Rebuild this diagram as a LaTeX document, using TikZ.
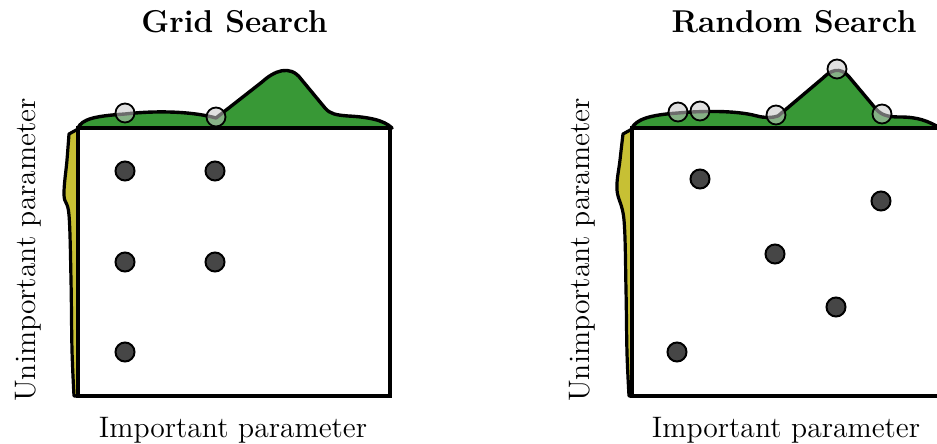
\documentclass[tikz,border=0pt]{standalone}
\usepackage{tikz}
\definecolor{hill}{RGB}{56,152,54}
\definecolor{stripc}{RGB}{199,192,52}
\definecolor{dotc}{RGB}{70,70,70}
\tikzset{
  sample/.style={circle, draw=black, line width=1pt, fill=dotc, inner sep=0pt, minimum size=9.5pt},
  probe/.style={circle, draw=black, line width=0.9pt, fill=gray!45, fill opacity=0.55, inner sep=0pt, minimum size=9.5pt},
  hillshape/.style={fill=hill, draw=black, line width=1.7pt, line join=round},
  stripshape/.style={fill=stripc, draw=black, line width=1.6pt, line join=round},
  boxshape/.style={fill=white, draw=black, line width=2pt},
  lbl/.style={font=\fontsize{14.8}{17}\selectfont, inner sep=0pt},
  ttl/.style={font=\fontsize{15.8}{18}\selectfont\bfseries, inner sep=0pt},
}
\begin{document}
\begin{tikzpicture}[x=0.5pt,y=-0.5pt]
\useasboundingbox (0,0) rectangle (937,444);
\clip (0,0) rectangle (937,444);
% ---------- left panel ----------
\draw[hillshape] (78,128) .. controls (82,119) and (95,116) .. (125,114)
  .. controls (160,110) and (195,112) .. (216,118)
  -- (262,82) .. controls (274,71) and (290,64) .. (301,79)
  -- (325,108) .. controls (330,114) and (336,115) .. (348,116)
  .. controls (368,117) and (384,120) .. (392,128) -- cycle;
\draw[boxshape] (78,128) rectangle (390,396);
\draw[stripshape] (78,129) -- plot[smooth, tension=0.6] coordinates {(69,134) (67,160) (64,195) (69,215) (71,280) (72,350) (74,396)} -- (78,396) -- cycle;
\draw[line width=2pt] (78,128) -- (78,396);
\node[probe] (lp1) at (125,113) {};
\node[probe] (lp2) at (216,117) {};
\node[sample] (ls1) at (125,171) {};
\node[sample] (ls2) at (215,171) {};
\node[sample] (ls3) at (125,262) {};
\node[sample] (ls4) at (215,262) {};
\node[sample] (ls5) at (125,352) {};
\node[ttl, anchor=base] (lt) at (234.5,33) {Grid Search};
\node[lbl, anchor=base] (lx) at (233,437) {Important parameter};
\node[lbl, anchor=base, rotate=90] (ly) at (35,250) {Unimportant parameter};
% ---------- right panel ----------
\draw[hillshape] (632,128) .. controls (636,120) and (648,115) .. (678,113)
  .. controls (700,111) and (735,110) .. (757,116)
  .. controls (765,118) and (772,118) .. (778,116)
  -- (823,78) .. controls (830,71) and (840,65) .. (850,78)
  -- (876,109) .. controls (882,116) and (890,117) .. (900,117)
  .. controls (918,117) and (928,121) .. (940,128) -- (950,128) -- cycle;
\draw[boxshape] (632,128) rectangle (960,396);
\draw[stripshape] (632,129) -- plot[smooth, tension=0.6] coordinates {(623,134) (620,160) (617,190) (624,220) (626,290) (627,353) (629,396)} -- (632,396) -- cycle;
\draw[line width=2pt] (632,128) -- (632,396);
\node[probe] (rp1) at (678,112) {};
\node[probe] (rp2) at (700,111) {};
\node[probe] (rp3) at (776,115) {};
\node[probe] (rp4) at (837,69) {};
\node[probe] (rp5) at (882,114) {};
\node[sample] (rs1) at (700,179) {};
\node[sample] (rs2) at (881,201) {};
\node[sample] (rs3) at (775,254) {};
\node[sample] (rs4) at (836,307) {};
\node[sample] (rs5) at (677,352) {};
\node[ttl, anchor=base] (rt) at (794,33) {Random Search};
\node[lbl, anchor=base] (rx) at (786,437) {Important parameter};
\node[lbl, anchor=base, rotate=90] (ry) at (589,250) {Unimportant parameter};
\end{tikzpicture}
\end{document}
